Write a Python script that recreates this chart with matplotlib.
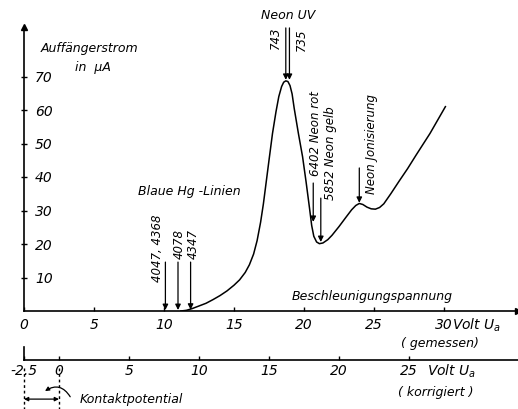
import matplotlib
matplotlib.use("Agg")
import matplotlib.pyplot as plt

# Franck-Hertz Kurve (Neon): Auffaengerstrom ueber Beschleunigungsspannung
volt = [11.2, 11.6, 12.0, 12.5, 13.0, 13.5, 14.0, 14.5, 15.0, 15.4, 15.8, 16.1,
        16.4, 16.65, 16.9, 17.1, 17.3, 17.5, 17.75, 18.0, 18.2, 18.4, 18.55,
        18.7, 18.85, 19.0, 19.15, 19.3, 19.6, 19.9, 20.15, 20.4, 20.55, 20.7,
        20.9, 21.1, 21.35, 21.7, 22.0, 22.5, 23.0, 23.4, 23.7, 23.95, 24.2,
        24.5, 24.8, 25.1, 25.4, 25.7, 26.2, 26.8, 27.4, 28.0, 29.0, 30.1]
strom = [0.0, 0.2, 0.7, 1.5, 2.3, 3.4, 4.6, 6.0, 7.7, 9.3, 11.5, 13.8,
         17.0, 21.0, 26.5, 32.0, 38.5, 45.0, 53.0, 59.5, 64.0, 67.0, 68.3,
         68.7, 68.5, 67.3, 64.8, 60.5, 53.0, 46.0, 38.5, 30.5, 25.5, 22.3,
         20.6, 20.1, 20.3, 21.3, 22.6, 25.2, 28.0, 30.2, 31.5, 32.1, 31.8,
         31.0, 30.5, 30.4, 30.9, 32.0, 35.0, 38.8, 42.5, 46.5, 53.0, 61.0]

y_ticks = [10, 20, 30, 40, 50, 60, 70]
x_ticks = [0, 5, 10, 15, 20, 25, 30]
x_ticks_korr = [-2.5, 0, 5, 10, 15, 20, 25]
x_labels_korr = ["-2.5", "0", "5", "10", "15", "20", "25"]
kontakt = 2.5

# Pfeile: (Spannung, Spitze, Anfang)
hg_arrows = [(10.1, 0.3, 14.6), (11.0, 0.3, 14.6), (11.9, 0.4, 14.6)]
uv_arrows = [(18.7, 69.0, 84.5), (18.96, 69.0, 84.5)]
neon_arrows = [(20.66, 26.6, 38.2), (21.2, 20.6, 33.7), (23.95, 32.3, 42.7)]

fig = plt.figure(figsize=(5.18, 4.09), dpi=100)
ax = fig.add_axes([24 / 518, 98 / 409, 494 / 518, 284 / 409])
ax.set_xlim(0, 494 / 14)
ax.set_ylim(0, 284 / 3.35)

fs = dict(style="italic", family="DejaVu Sans", color="k")

ax.plot(volt, strom, color="k", lw=1.1)

for s in ["top", "right"]:
    ax.spines[s].set_visible(False)
for s in ["left", "bottom"]:
    ax.spines[s].set_linewidth(1.2)
ax.plot(1, 0, ">", color="k", ms=5, transform=ax.transAxes, clip_on=False)
ax.plot(0, 1, "^", color="k", ms=5, transform=ax.transAxes, clip_on=False)

ax.set_xticks(x_ticks)
ax.set_xticklabels([str(t) for t in x_ticks], fontsize=10, **fs)
ax.tick_params(axis="x", direction="in", length=3, width=1, pad=5)
ax.set_yticks(y_ticks)
ax.set_yticklabels([str(t) for t in y_ticks], fontsize=10, **fs)
ax.tick_params(axis="y", direction="inout", length=4, width=1, pad=-10)
for lab in ax.get_yticklabels():
    lab.set_horizontalalignment("left")

# korrigierte Spannungsachse
sec = ax.secondary_xaxis(-49 / 284, functions=(lambda x: x - kontakt, lambda x: x + kontakt))
sec.set_xticks(x_ticks_korr)
sec.set_xticklabels(x_labels_korr, fontsize=10, **fs)
sec.tick_params(axis="x", direction="in", length=3, width=1, pad=3)
sec.spines["bottom"].set_linewidth(1.2)
ax.plot([0, 0], [-10.7, -14.6], color="k", lw=1.2, clip_on=False)

arrow = dict(arrowstyle="-|>", color="k", lw=0.9, mutation_scale=8, shrinkA=0, shrinkB=0)
for x, tip, top in hg_arrows + uv_arrows + neon_arrows:
    ax.annotate("", xy=(x, tip), xytext=(x, top), arrowprops=arrow, annotation_clip=False)

ax.text(4.7, 78.5, "Auffängerstrom", fontsize=9, ha="center", va="center", **fs)
ax.text(4.9, 72.8, "in  μA", fontsize=9, ha="center", va="center", **fs)
ax.text(11.8, 35.8, "Blaue Hg -Linien", fontsize=9, ha="center", va="center", **fs)
ax.text(9.5, 18.8, "4047, 4368", fontsize=8.5, rotation=90, ha="center", va="center", **fs)
ax.text(11.07, 20.0, "4078", fontsize=8.5, rotation=90, ha="center", va="center", **fs)
ax.text(12.07, 20.0, "4347", fontsize=8.5, rotation=90, ha="center", va="center", **fs)
ax.text(18.9, 88.1, "Neon UV", fontsize=9, ha="center", va="center", clip_on=False, **fs)
ax.text(17.93, 81.6, "743", fontsize=8.5, rotation=90, ha="center", va="center", **fs)
ax.text(19.82, 81.0, "735", fontsize=8.5, rotation=90, ha="center", va="center", **fs)
ax.text(20.8, 53.1, "6402 Neon rot", fontsize=8.5, rotation=90, ha="center", va="center", **fs)
ax.text(21.9, 47.2, "5852 Neon gelb", fontsize=8.5, rotation=90, ha="center", va="center", **fs)
ax.text(24.8, 49.9, "Neon Jonisierung", fontsize=8.5, rotation=90, ha="center", va="center", **fs)
ax.text(24.9, 4.2, "Beschleunigungspannung", fontsize=9, ha="center", va="center", **fs)
ax.text(30.6, -4.2, "Volt $U_a$", fontsize=10, ha="left", va="center", clip_on=False, **fs)
ax.text(29.7, -9.6, "( gemessen)", fontsize=9, ha="center", va="center", clip_on=False, **fs)
ax.text(28.8, -17.9, "Volt $U_a$", fontsize=10, ha="left", va="center", clip_on=False, **fs)
ax.text(29.4, -24.2, "( korrigiert )", fontsize=9, ha="center", va="center", clip_on=False, **fs)

# Kontaktpotential
for x in [0, kontakt]:
    ax.plot([x, x], [-17.0, -29.5], color="k", lw=1, ls=(0, (2, 2)), clip_on=False)
ax.annotate("", xy=(0, -26.3), xytext=(kontakt, -26.3),
            arrowprops=dict(arrowstyle="<|-|>", color="k", lw=0.9, mutation_scale=6,
                            shrinkA=0, shrinkB=0), annotation_clip=False)
ax.annotate("", xy=(1.5, -23.9), xytext=(3.3, -25.6),
            arrowprops=dict(arrowstyle="-|>", color="k", lw=0.9, mutation_scale=6,
                            shrinkA=0, shrinkB=0, connectionstyle="arc3,rad=0.5"),
            annotation_clip=False)
ax.text(4.0, -26.3, "Kontaktpotential", fontsize=9, ha="left", va="center", clip_on=False, **fs)

fig.savefig("out.png", dpi=100)
